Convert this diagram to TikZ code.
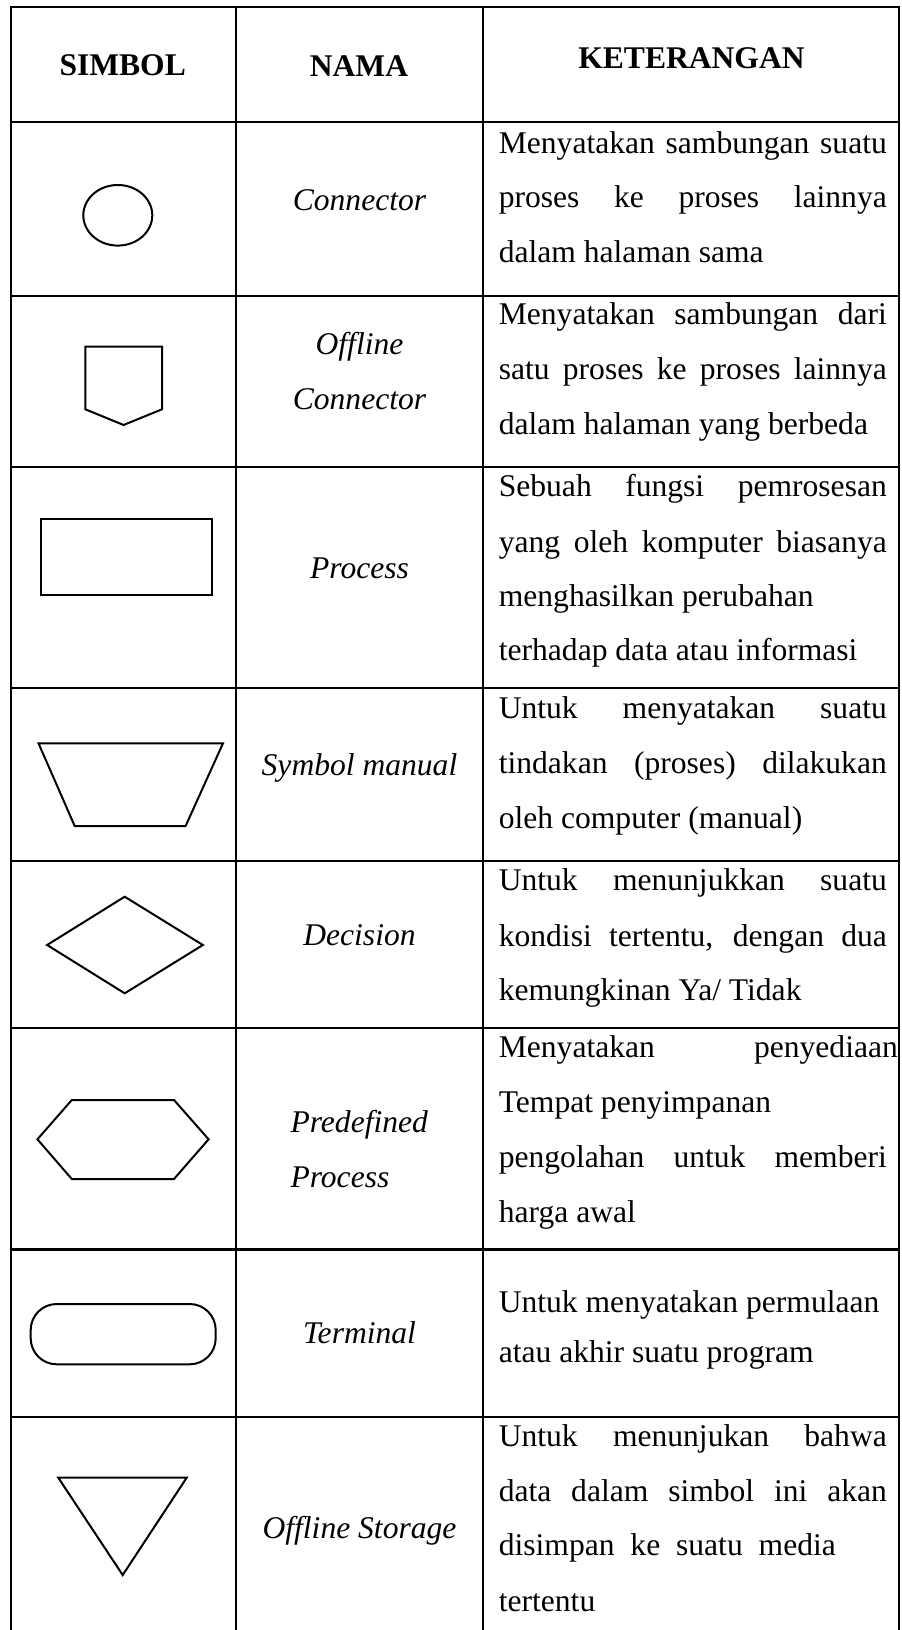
\documentclass[tikz,border=0pt]{standalone}
\usepackage{fontspec}
\setmainfont{Liberation Serif}
\newlength\pxu
\setlength\pxu{0.38pt}
% a line of a justified paragraph, stretched to the given width
\newcommand\jline[2]{\makebox[#1\pxu][s]{#2}}
\tikzset{
  tabline/.style={line width=2.2\pxu},
  symline/.style={line width=2\pxu, line join=miter},
  txt/.style={inner sep=0pt, font=\fontsize{12}{14}\selectfont},
  desctext/.style={txt, anchor=base west},
  namelbl/.style={txt, anchor=base, font=\fontsize{12}{14}\selectfont\itshape},
  namelft/.style={txt, anchor=base west, font=\fontsize{12}{14}\selectfont\itshape},
  headtext/.style={txt, anchor=base, font=\fontsize{12}{14}\selectfont\bfseries},
}
\begin{document}
\begin{tikzpicture}[x=\pxu, y=-\pxu]
\useasboundingbox[fill=white] (0,0) rectangle (901,1630);

% table rules
\draw[tabline] (9.9,7.3) -- (900.1,7.3);
\foreach \yy in {122.3,296.3,466.7,688.3,860.7,1028,1249.5,1416.7}
  \draw[tabline] (11,\yy) -- (899,\yy);
\foreach \xx in {11,236,483,899}
  \draw[tabline] (\xx,7.3) -- (\xx,1632);

% header
\node[headtext] (hsimbol) at (122.7,76) {SIMBOL};
\node[headtext] (hnama) at (359,77) {NAMA};
\node[headtext] (hket) at (691.5,68.5) {KETERANGAN};

% symbols
\draw[symline] (117.8,215.3) ellipse [x radius=34.5, y radius=30.3];
\draw[symline] (85.3,346.7) -- (162,346.7) -- (162,409.3) -- (123.6,425) -- (85.3,409.3) -- cycle;
\draw[symline] (41.4,519.3) rectangle (211.5,595);
\draw[symline] (38.5,743.3) -- (223,743.3) -- (185.6,826) -- (74.7,826) -- cycle;
\draw[symline] (124.7,896.7) -- (202.9,945) -- (124.7,993.3) -- (47.1,945) -- cycle;
\draw[symline] (71.8,1100) -- (174,1100) -- (208.6,1139.3) -- (174,1179) -- (71.8,1179) -- (37.4,1139.3) -- cycle;
\draw[symline, rounded corners=26\pxu] (30.7,1304) rectangle (215.7,1364.3);
\draw[symline] (58.3,1477.7) -- (186.7,1477.7) -- (122.7,1575) -- cycle;

% names
\node[namelbl] (n1) at (359.5,210.7) {Connector};
\node[namelbl] (n2a) at (359.5,355) {Offline};
\node[namelbl] (n2b) at (359.5,410) {Connector};
\node[namelbl] (n3) at (359.5,578.5) {Process};
\node[namelbl] (n4) at (359.5,775) {Symbol manual};
\node[namelbl] (n5) at (359.5,945) {Decision};
\node[namelft] (n6a) at (290,1132) {Predefined};
\node[namelft] (n6b) at (290,1187) {Process};
\node[namelbl] (n7) at (359.5,1343.3) {Terminal};
\node[namelbl] (n8) at (359.5,1538.3) {Offline Storage};

% descriptions
\node[desctext] (d1a) at (498.3,153.3) {\jline{388}{Menyatakan sambungan suatu}};
\node[desctext] (d1b) at (498.3,208) {\jline{388}{proses ke proses lainnya}};
\node[desctext] (d1c) at (498.3,263) {dalam halaman sama};

\node[desctext] (d2a) at (498.3,325) {\jline{388}{Menyatakan sambungan dari}};
\node[desctext] (d2b) at (498.3,380) {\jline{388}{satu proses ke proses lainnya}};
\node[desctext] (d2c) at (498.3,435) {dalam halaman yang berbeda};

\node[desctext] (d3a) at (498.3,497) {\jline{388}{Sebuah fungsi pemrosesan}};
\node[desctext] (d3b) at (498.3,552) {\jline{388}{yang oleh komputer biasanya}};
\node[desctext] (d3c) at (498.3,606) {menghasilkan perubahan};
\node[desctext] (d3d) at (498.3,660) {terhadap data atau informasi};

\node[desctext] (d4a) at (498.3,718) {\jline{388}{Untuk menyatakan suatu}};
\node[desctext] (d4b) at (498.3,773) {\jline{388}{tindakan (proses) dilakukan}};
\node[desctext] (d4c) at (498.3,828) {oleh computer (manual)};

\node[desctext] (d5a) at (498.3,890) {\jline{388}{Untuk menunjukkan suatu}};
\node[desctext] (d5b) at (498.3,946) {\jline{388}{kondisi tertentu, dengan dua}};
\node[desctext] (d5c) at (498.3,1000) {kemungkinan Ya/ Tidak};

\node[desctext] (d6a) at (498.3,1057) {\jline{399}{Menyatakan penyediaan}};
\node[desctext] (d6b) at (498.3,1112) {Tempat penyimpanan};
\node[desctext] (d6c) at (498.3,1167) {\jline{388}{pengolahan untuk memberi}};
\node[desctext] (d6d) at (498.3,1222) {harga awal};

\node[desctext] (d7a) at (498.3,1312) {Untuk menyatakan permulaan};
\node[desctext] (d7b) at (498.3,1362) {atau akhir suatu program};

\node[desctext] (d8a) at (498.3,1446) {\jline{388}{Untuk menunjukan bahwa}};
\node[desctext] (d8b) at (498.3,1501) {\jline{388}{data dalam simbol ini akan}};
\node[desctext] (d8c) at (498.3,1555) {\jline{337}{disimpan ke suatu media}};
\node[desctext] (d8d) at (498.3,1611) {tertentu};
\end{tikzpicture}
\end{document}
